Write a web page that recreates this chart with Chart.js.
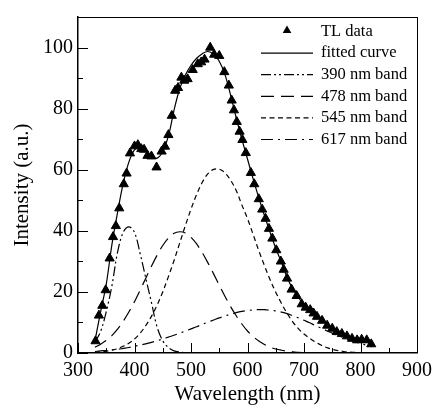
<!DOCTYPE html>
<html><head><meta charset="utf-8">
<script src="https://cdn.jsdelivr.net/npm/chart.js@4.4.1/dist/chart.umd.min.js"></script>
<style>html,body{margin:0;padding:0;background:#fff}</style>
</head><body>
<canvas id="c" width="438" height="405"></canvas>
<script>
// ---- data ----
const tlWavelength = [331,337,343,349,356,362,367,373,381,386,392,400,406,412,417,423,430,439,448,454,460,466,472,477,483,488,494,503,512,518,524,534,541,550,559,567,572,576,581,586,591,597,606,612,620,626,632,638,644,651,659,664,670,678,687,696,703,711,717,723,732,741,750,758,767,776,785,794,802,811,819];
const tlIntensity  = [3.9,12.3,15.5,20.6,31.0,38.0,41.6,47.4,55.3,58.8,65.4,67.7,68.1,66.8,66.6,64.6,64.4,60.8,66.0,67.6,71.4,77.7,85.9,86.8,90.2,89.2,89.7,92.7,94.6,95.2,96.1,100.0,97.7,97.3,92.0,87.6,82.7,79.5,75.7,72.5,69.8,65.5,59.0,55.3,50.4,47.0,44.0,40.7,37.5,33.7,30.0,27.3,24.4,20.8,18.7,16.0,14.9,14.1,13.0,11.9,10.6,9.0,8.0,6.9,6.3,5.5,4.7,4.2,4.4,4.2,2.9];

const curveWavelength = [330,340,350,360,370,380,390,400,410,420,430,440,450,460,470,480,490,500,510,520,530,540,550,560,570,580,590,600,610,620,630,640,650,660,670,680,690,700,710,720,730,740,750,760,770,780,790,800,810,820];
const fittedCurve = [4.0,13.5,22.5,35.5,46.0,55.5,62.5,66.5,67.3,66.0,64.3,63.8,66.0,71.0,79.5,86.5,91.0,94.2,96.5,98.0,98.7,97.8,95.5,91.2,84.5,77.0,70.0,63.5,57.0,50.8,45.0,39.5,34.3,29.7,24.8,21.0,18.3,15.5,13.8,12.4,11.0,9.5,8.3,7.3,6.3,5.5,4.8,4.2,3.6,3.0];
const band390 = [3.5,7.0,13.5,22.0,33.0,39.5,41.3,39.5,32.5,24.5,16.5,8.5,4.0,1.8,0.7,0.3,0.1,0,0,0,0,0,0,0,0,0,0,0,0,0,0,0,0,0,0,0,0,0,0,0,0,0,0,0,0,0,0,0,0,0];
const band478 = [1.9,2.9,4.1,5.7,7.8,10.4,13.4,16.8,20.6,24.5,28.4,32.0,35.2,37.6,39.2,39.7,39.3,37.9,35.7,32.8,29.5,25.9,22.2,18.6,15.2,12.2,9.5,7.2,5.4,3.9,2.8,1.9,1.3,0.9,0.6,0.4,0.2,0.1,0,0,0,0,0,0,0,0,0,0,0,0];
const band545 = [0.2,0.4,0.6,0.9,1.4,2.2,3.2,4.6,6.5,9.0,12.0,15.7,20.0,25.0,30.3,36.0,41.7,47.1,51.9,55.9,58.7,60.1,60.2,59.0,56.6,53.2,48.5,44.0,38.8,33.5,28.6,24.0,19.9,16.3,13.0,10.2,8.0,6.2,4.8,3.6,2.6,1.8,1.2,0.8,0.5,0.3,0.2,0.1,0.05,0];
const band617 = [0.5,0.7,0.8,1.0,1.2,1.5,1.8,2.2,2.6,3.0,3.5,4.0,4.6,5.2,5.8,6.5,7.2,7.9,8.6,9.4,10.1,10.8,11.5,12.1,12.7,13.2,13.6,13.9,14.1,14.2,14.2,14.0,13.8,13.4,12.9,12.2,11.5,10.7,9.9,9.0,8.2,7.3,6.5,5.7,5.0,4.3,3.7,3.1,2.6,2.1];

const xTickValues = [300,400,500,600,700,800,900];
const xMinorTicks = [350,450,550,650,750,850];
const yTickValues = [0,20,40,60,80,100];
const yMinorTicks = [10,30,50,70,90];
const legendLabels = ['TL data','fitted curve','390 nm band','478 nm band','545 nm band','617 nm band'];
const xTitle = 'Wavelength (nm)';
const yTitle = 'Intensity (a.u.)';

// ---- build ----
const pts = (xs, ys) => xs.map((x, i) => ({x, y: ys[i]}));
const lineDs = (label, ys, dash) => ({
  label, data: pts(curveWavelength, ys), showLine: true, pointRadius: 0,
  borderColor: '#000', borderWidth: 1.2, borderDash: dash, tension: 0.35, fill: false
});

const datasets = [
  { label: legendLabels[0], data: pts(tlWavelength, tlIntensity), showLine: false,
    pointStyle: 'triangle', pointRadius: 5.3, pointBackgroundColor: '#000', pointBorderColor: '#000', pointBorderWidth: 1 },
  lineDs(legendLabels[1], fittedCurve, []),
  lineDs(legendLabels[2], band390, [10,3,2,3,2,3]),
  lineDs(legendLabels[3], band478, [13,7]),
  lineDs(legendLabels[4], band545, [5,3.5]),
  lineDs(legendLabels[5], band617, [12,5,2,5])
];

const FONT = '"Liberation Serif", "Times New Roman", serif';

const decor = {
  id: 'decor',
  beforeDatasetsDraw(chart) {
    const {ctx, chartArea: a, scales} = chart;
    ctx.save();
    ctx.strokeStyle = '#000';
    ctx.lineWidth = 1;
    ctx.setLineDash([]);
    const seg = (x1, y1, x2, y2) => { ctx.beginPath(); ctx.moveTo(x1, y1); ctx.lineTo(x2, y2); ctx.stroke(); };
    xTickValues.forEach(v => { const p = Math.round(scales.x.getPixelForValue(v)) + 0.5; seg(p, a.bottom, p, a.bottom - 10); });
    xMinorTicks.forEach(v => { const p = Math.round(scales.x.getPixelForValue(v)) + 0.5; seg(p, a.bottom, p, a.bottom - 5); });
    yTickValues.forEach(v => { const p = Math.round(scales.y.getPixelForValue(v)) + 0.5; seg(a.left, p, a.left + 10, p); });
    yMinorTicks.forEach(v => { const p = Math.round(scales.y.getPixelForValue(v)) + 0.5; seg(a.left, p, a.left + 5, p); });
    // top & right frame
    seg(a.left, Math.round(a.top) + 0.5, a.right, Math.round(a.top) + 0.5);
    seg(Math.round(a.right) + 0.5, a.top, Math.round(a.right) + 0.5, a.bottom);
    ctx.restore();
  },
  afterDatasetsDraw(chart) {
    const {ctx, chartArea: a} = chart;
    const ds = chart.data.datasets;
    ctx.save();
    ctx.font = '16.5px ' + FONT;
    ctx.fillStyle = '#000';
    ctx.strokeStyle = '#000';
    ctx.textBaseline = 'middle';
    ctx.textAlign = 'left';
    const x0 = a.right - 156, x1 = a.right - 104, tx = a.right - 96;
    ds.forEach((d, i) => {
      const y = a.top + 14.5 + i * 21.6;
      if (d.showLine === false) {
        const cx = (x0 + x1) / 2, cy = y - 1, r = 5;
        ctx.setLineDash([]);
        ctx.beginPath();
        ctx.moveTo(cx, cy - r);
        ctx.lineTo(cx + r * Math.sin(2 * Math.PI / 3), cy - r * Math.cos(2 * Math.PI / 3));
        ctx.lineTo(cx + r * Math.sin(4 * Math.PI / 3), cy - r * Math.cos(4 * Math.PI / 3));
        ctx.closePath();
        ctx.fill();
      } else {
        ctx.lineWidth = 1.2;
        ctx.setLineDash(d.borderDash || []);
        ctx.beginPath();
        ctx.moveTo(x0, y); ctx.lineTo(x1, y);
        ctx.stroke();
      }
      ctx.setLineDash([]);
      ctx.fillText(d.label, tx, y);
    });
    ctx.restore();
  }
};

new Chart(document.getElementById('c'), {
  type: 'scatter',
  data: { datasets },
  options: {
    responsive: false,
    devicePixelRatio: 1,
    animation: false,
    layout: { padding: { left: 0, right: 19, top: 12, bottom: 0 } },
    plugins: { legend: { display: false }, tooltip: { enabled: false } },
    scales: {
      x: {
        type: 'linear', position: 'bottom', min: 300, max: 900,
        afterBuildTicks: s => { s.ticks = xTickValues.map(v => ({value: v})); },
        afterFit: s => { s.height = 52; },
        ticks: { color: '#000', padding: 6, maxRotation: 0, autoSkip: false,
                 font: { family: FONT, size: 20, lineHeight: 1.2 } },
        grid: { display: false, drawTicks: false },
        border: { display: true, color: '#000', width: 1.5 },
        title: { display: true, text: xTitle, color: '#000',
                 font: { family: FONT, size: 21, lineHeight: 1 }, padding: { top: 0, bottom: 0 } }
      },
      y: {
        type: 'linear', position: 'left', min: 0, max: 110,
        afterBuildTicks: s => { s.ticks = yTickValues.map(v => ({value: v})); },
        afterFit: s => { s.width = 78; },
        ticks: { color: '#000', padding: 5, autoSkip: false,
                 font: { family: FONT, size: 20, lineHeight: 1.2 } },
        grid: { display: false, drawTicks: false },
        border: { display: true, color: '#000', width: 1.5 },
        title: { display: true, text: yTitle, color: '#000',
                 font: { family: FONT, size: 21, lineHeight: 1 }, padding: { top: 12, bottom: 0 } }
      }
    }
  },
  plugins: [decor]
});
</script>
</body></html>
